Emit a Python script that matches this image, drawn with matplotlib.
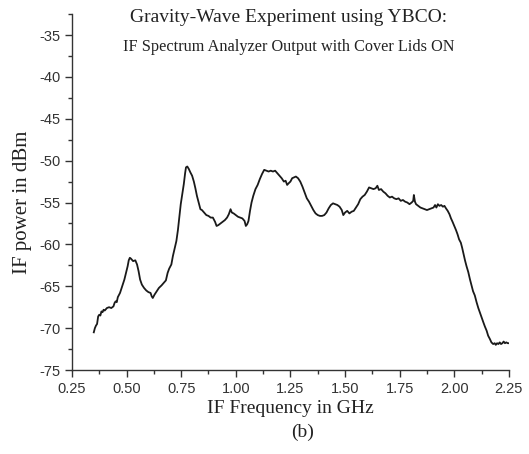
import matplotlib.pyplot as plt
from matplotlib.ticker import MultipleLocator

plt.rcParams['axes.unicode_minus'] = False

# IF spectrum values
freq_ghz = [0.350, 0.355, 0.360, 0.365, 0.370, 0.375, 0.380, 0.385, 0.390, 0.395,
            0.400, 0.410, 0.420, 0.430, 0.440, 0.445, 0.450, 0.455, 0.460, 0.470,
            0.480, 0.490, 0.500, 0.505, 0.510, 0.515, 0.520, 0.530, 0.540, 0.548,
            0.555, 0.562, 0.570, 0.580, 0.590, 0.600, 0.610, 0.615, 0.620, 0.628,
            0.638, 0.648, 0.660, 0.670, 0.680, 0.688, 0.695, 0.705, 0.712, 0.720,
            0.728, 0.735, 0.742, 0.748, 0.755, 0.762, 0.768, 0.772, 0.778, 0.785,
            0.792, 0.800, 0.808, 0.815, 0.822, 0.830, 0.838, 0.845, 0.855, 0.865,
            0.875, 0.885, 0.895, 0.905, 0.912, 0.920, 0.930, 0.940, 0.950, 0.960,
            0.968, 0.976, 0.982, 0.990, 1.000, 1.010, 1.020, 1.030, 1.040, 1.046,
            1.052, 1.058, 1.065, 1.072, 1.080, 1.090, 1.100, 1.110, 1.120, 1.130,
            1.140, 1.150, 1.160, 1.170, 1.180, 1.190, 1.200, 1.210, 1.220, 1.228,
            1.235, 1.242, 1.250, 1.258, 1.266, 1.275, 1.285, 1.295, 1.305, 1.315,
            1.325, 1.335, 1.345, 1.355, 1.365, 1.375, 1.385, 1.395, 1.405, 1.415,
            1.425, 1.435, 1.445, 1.455, 1.465, 1.475, 1.485, 1.492, 1.500, 1.510,
            1.520, 1.530, 1.540, 1.550, 1.560, 1.570, 1.580, 1.590, 1.600, 1.610,
            1.620, 1.630, 1.640, 1.648, 1.655, 1.665, 1.675, 1.685, 1.695, 1.705,
            1.715, 1.725, 1.735, 1.745, 1.755, 1.765, 1.775, 1.785, 1.795, 1.805,
            1.812, 1.815, 1.820, 1.825, 1.835, 1.845, 1.855, 1.865, 1.875, 1.885,
            1.895, 1.905, 1.912, 1.918, 1.925, 1.932, 1.940, 1.948, 1.955, 1.962,
            1.970, 1.978, 1.985, 1.992, 2.000, 2.008, 2.015, 2.022, 2.030, 2.036,
            2.042, 2.049, 2.056, 2.064, 2.072, 2.079, 2.086, 2.094, 2.102, 2.110,
            2.118, 2.125, 2.133, 2.140, 2.148, 2.155, 2.163, 2.170, 2.178, 2.185,
            2.190, 2.196, 2.202, 2.208, 2.214, 2.220, 2.226, 2.232, 2.238, 2.245,
            2.250]
power_dbm = [-70.5, -70.0, -69.7, -69.5, -68.6, -68.4, -68.5, -68.0, -68.1, -67.8,
             -67.9, -67.6, -67.5, -67.6, -67.4, -67.0, -66.8, -66.9, -66.3, -65.8,
             -65.0, -64.2, -63.1, -62.6, -61.9, -61.6, -61.7, -62.0, -61.9, -62.4,
             -63.2, -64.2, -64.8, -65.2, -65.5, -65.7, -65.8, -66.2, -66.4, -66.0,
             -65.6, -65.2, -64.9, -64.6, -64.3, -63.4, -62.9, -62.4, -61.4, -60.5,
             -59.6, -58.3, -56.6, -55.2, -54.0, -52.8, -51.5, -50.8, -50.7, -51.0,
             -51.4, -51.8, -52.5, -53.3, -54.2, -55.0, -55.8, -55.9, -56.2, -56.5,
             -56.6, -56.8, -56.8, -57.3, -57.8, -57.7, -57.5, -57.3, -57.1, -56.8,
             -56.4, -55.8, -56.2, -56.3, -56.5, -56.7, -56.8, -56.9, -57.2, -57.8,
             -57.6, -57.2, -56.0, -55.0, -54.2, -53.4, -52.9, -52.2, -51.6, -51.1,
             -51.2, -51.3, -51.2, -51.3, -51.2, -51.5, -51.8, -52.1, -52.5, -52.4,
             -52.9, -52.7, -52.5, -52.1, -52.0, -51.9, -52.1, -52.5, -53.1, -53.8,
             -54.5, -54.9, -55.4, -55.9, -56.3, -56.5, -56.6, -56.6, -56.5, -56.2,
             -55.7, -55.3, -55.1, -55.2, -55.3, -55.5, -55.9, -56.5, -56.2, -56.0,
             -56.3, -56.1, -56.0, -55.6, -55.2, -54.6, -54.3, -54.1, -53.7, -53.2,
             -53.3, -53.4, -53.3, -53.0, -53.5, -53.4, -53.7, -53.9, -54.2, -54.4,
             -54.3, -54.5, -54.6, -54.5, -54.8, -54.7, -54.9, -55.0, -55.2, -55.0,
             -54.8, -54.1, -54.9, -55.2, -55.4, -55.6, -55.7, -55.8, -55.9, -55.8,
             -55.7, -55.6, -55.3, -55.6, -55.2, -55.4, -55.3, -55.5, -55.4, -55.7,
             -56.0, -56.4, -56.9, -57.3, -57.8, -58.3, -58.8, -59.4, -59.8, -60.4,
             -61.1, -61.9, -62.6, -63.3, -64.2, -64.9, -65.6, -66.1, -66.9, -67.6,
             -68.2, -68.7, -69.3, -69.8, -70.3, -70.9, -71.3, -71.7, -71.9, -71.8,
             -72.0, -71.8, -71.9, -71.7, -71.9, -71.8, -71.6, -71.8, -71.7, -71.8,
             -71.8]

x_ticks = [0.25, 0.50, 0.75, 1.00, 1.25, 1.50, 1.75, 2.00, 2.25]
y_ticks = [-75, -70, -65, -60, -55, -50, -45, -40, -35]

fig = plt.figure(figsize=(5.29, 4.54), dpi=100)
ax = fig.add_axes([0.136, 0.185, 0.826, 0.784])

ax.plot(freq_ghz, power_dbm, color='#1a1a1a', lw=1.3)

ax.set_xlim(0.25, 2.25)
ax.set_ylim(-75, -32.5)
ax.set_xticks(x_ticks)
ax.set_xticklabels(['%.2f' % t for t in x_ticks])
ax.set_yticks(y_ticks)
ax.xaxis.set_minor_locator(MultipleLocator(0.125))
ax.yaxis.set_minor_locator(MultipleLocator(2.5))

ax.spines['top'].set_visible(False)
ax.spines['right'].set_visible(False)
for s in ['left', 'bottom']:
    ax.spines[s].set_color('#333333')
    ax.spines[s].set_linewidth(1.0)

ax.tick_params(which='major', direction='out', length=5, width=1.0, color='#333333',
               labelsize=10.5, labelcolor='#333333')
ax.tick_params(which='minor', direction='out', length=3, width=1.0, color='#333333')
for lab in ax.get_xticklabels() + ax.get_yticklabels():
    lab.set_family('Liberation Sans')

serif = 'Liberation Serif'
ax.set_xlabel('IF Frequency in GHz', family=serif, fontsize=14, color='#222222', va='center')
ax.set_ylabel('IF power in dBm', family=serif, fontsize=15, color='#222222', va='center')
ax.xaxis.set_label_coords(0.499, -0.107)
ax.yaxis.set_label_coords(-0.114, 0.472)

fig.text(0.545, 0.961, 'Gravity-Wave Experiment using YBCO:', family=serif, fontsize=14,
         color='#222222', ha='center', va='center')
fig.text(0.545, 0.897, 'IF Spectrum Analyzer Output with Cover Lids ON', family=serif,
         fontsize=11.7, color='#222222', ha='center', va='center')
fig.text(0.572, 0.048, '(b)', family=serif, fontsize=14, color='#222222', ha='center', va='center')

fig.savefig('out.png', dpi=100)
